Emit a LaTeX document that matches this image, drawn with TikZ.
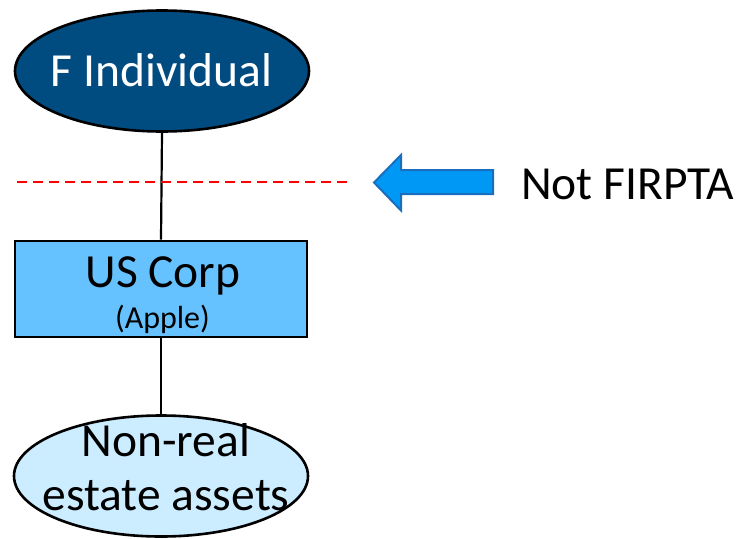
\documentclass[tikz,border=0pt]{standalone}
\usepackage{fontspec}
\setmainfont{Carlito}
\usetikzlibrary{shapes.geometric}
\definecolor{indivblue}{RGB}{0,75,128}
\definecolor{corpblue}{RGB}{102,194,255}
\definecolor{assetblue}{RGB}{204,236,255}
\definecolor{arrowfill}{RGB}{0,152,245}
\definecolor{arrowedge}{RGB}{25,110,190}
\tikzset{
  entity/.style={ellipse, draw=black, line width=2.6pt, minimum width=294pt, minimum height=121pt, inner sep=0pt},
  corpbox/.style={rectangle, draw=black, line width=2.4pt, fill=corpblue, minimum width=292pt, minimum height=96.5pt, inner sep=0pt},
  bigtext/.style={font=\fontsize{47.5}{54}\selectfont, anchor=base, inner sep=0pt},
  smalltext/.style={font=\fontsize{32}{36}\selectfont, anchor=base, inner sep=0pt},
  link/.style={draw=black, line width=2.2pt},
  firptaline/.style={draw=red, line width=1.8pt, dash pattern=on 10pt off 6pt},
}
\begin{document}
\begin{tikzpicture}[x=1pt, y=-1pt]
\useasboundingbox (0,0) rectangle (743,538);

% ownership chain
\node[entity, fill=indivblue] (indiv) at (162,71) {};
\node[corpbox] (corp) at (161,289) {};
\node[entity, fill=assetblue] (assets) at (161,476) {};

\draw[link] (indiv.south) -- (corp.north);
\draw[link] (corp.south) -- (assets.north);

% labels
\node[bigtext, text=white] (indivlabel) at (161.5,86.7) {F Individual};
\node[bigtext] (corplabel) at (163,287) {US Corp};
\node[smalltext] (applelabel) at (162.5,328) {(Apple)};
\node[bigtext] (assetlabel1) at (166,456.7) {Non-real};
\node[bigtext] (assetlabel2) at (166,510) {estate assets};

% FIRPTA boundary
\coordinate (cutL) at (17,181.7);
\coordinate (cutR) at (347,181.7);
\draw[firptaline] (cutL) -- (cutR);

% pointer arrow and its note
\filldraw[fill=arrowfill, draw=arrowedge, line width=2pt, line join=miter]
  (374,182.5) -- (401,155) -- (401,170) -- (493,170) -- (493,194) -- (401,194) -- (401,210.5) -- cycle;
\node[bigtext, anchor=base west] (note) at (521,199) {Not FIRPTA};
\end{tikzpicture}
\end{document}
